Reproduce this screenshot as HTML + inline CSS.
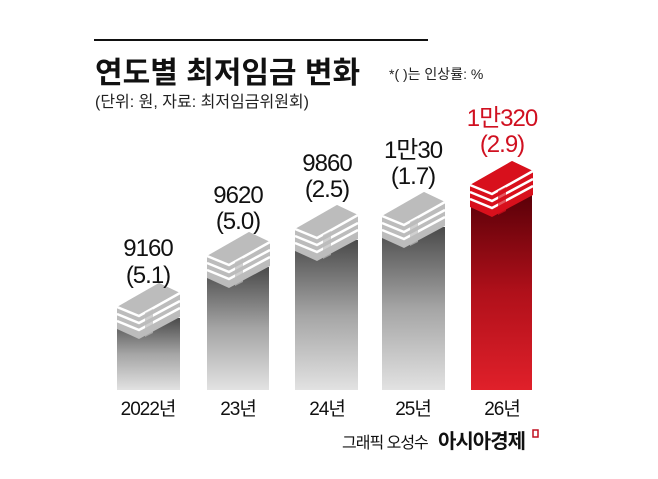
<!DOCTYPE html>
<html><head><meta charset="utf-8"><style>
body{margin:0;background:#fff;width:658px;height:474px;overflow:hidden}
svg text{font-family:"Liberation Sans","Noto Sans CJK KR",sans-serif}
</style></head><body>
<svg width="658" height="474" viewBox="0 0 658 474" xmlns="http://www.w3.org/2000/svg">
<defs>
<linearGradient id="g" x1="0" y1="0" x2="0" y2="1"><stop offset="0" stop-color="#4a4a4a"/><stop offset="0.5" stop-color="#a5a5a5"/><stop offset="1" stop-color="#e2e2e2"/></linearGradient>
<linearGradient id="r" x1="0" y1="0" x2="0" y2="1"><stop offset="0" stop-color="#5a0008"/><stop offset="0.5" stop-color="#b0101a"/><stop offset="1" stop-color="#e0202a"/></linearGradient>
<g id="stk">
<polygon points="0,24 42,0 63,10 63,34 22,56 0,46" fill="currentColor"/>
<polygon points="0,24 42,0 63,10 22,33" fill="currentColor" opacity="0.85"/>
<g stroke="#fff" stroke-width="2.5" fill="none">
<polyline points="0,31 22,40 63,18"/><polyline points="0,38 22,47 63,25"/><polyline points="0,24 22,33 63,10"/>
</g>
<polygon points="28,30 36,26 36,50 28,54" fill="currentColor" opacity="0.7"/>
</g>
</defs>
<line x1="94" y1="40" x2="428" y2="40" stroke="#111" stroke-width="2"/>
<text x="95" y="83" font-size="30" font-weight="bold" fill="#111">연도별 최저임금 변화</text>
<text x="389" y="79" font-size="14" fill="#222">*( )는 인상률: %</text>
<text x="95" y="107" font-size="16" fill="#222">(단위: 원, 자료: 최저임금위원회)</text>

<rect x="117" y="318" width="63" height="72" fill="url(#g)"/>
<g transform="translate(117,283)" color="#bcbcbc"><use href="#stk"/></g>
<rect x="207" y="267" width="62" height="123" fill="url(#g)"/>
<g transform="translate(207,232)" color="#bcbcbc"><use href="#stk"/></g>
<rect x="295" y="240" width="63" height="150" fill="url(#g)"/>
<g transform="translate(295,205)" color="#bcbcbc"><use href="#stk"/></g>
<rect x="382" y="227" width="63" height="163" fill="url(#g)"/>
<g transform="translate(382,192)" color="#bcbcbc"><use href="#stk"/></g>
<rect x="471" y="195" width="61" height="195" fill="url(#r)"/>
<g transform="translate(470,161)" color="#d8101c"><use href="#stk"/></g>

<g font-size="24" text-anchor="middle" fill="#111" letter-spacing="-1">
<text x="148" y="256">9160</text><text x="148" y="283">(5.1)</text>
<text x="238" y="203">9620</text><text x="238" y="229">(5.0)</text>
<text x="327" y="171">9860</text><text x="327" y="197">(2.5)</text>
<text x="413" y="158">1만30</text><text x="413" y="184">(1.7)</text>
<text x="502" y="126" fill="#d01020">1만320</text><text x="502" y="152" fill="#d01020">(2.9)</text>
</g>
<g font-size="19" text-anchor="middle" fill="#111" letter-spacing="-1">
<text x="148" y="415">2022년</text><text x="238" y="415">23년</text><text x="327" y="415">24년</text><text x="413" y="415">25년</text><text x="502" y="415">26년</text>
</g>
<text x="342" y="448" font-size="16" fill="#111" letter-spacing="-1">그래픽 오성수</text>
<text x="438" y="448" font-size="20" font-weight="bold" fill="#111" letter-spacing="-1">아시아경제</text>
<rect x="533" y="430" width="5" height="7" fill="none" stroke="#c01020" stroke-width="1.5"/>
</svg>
</body></html>
